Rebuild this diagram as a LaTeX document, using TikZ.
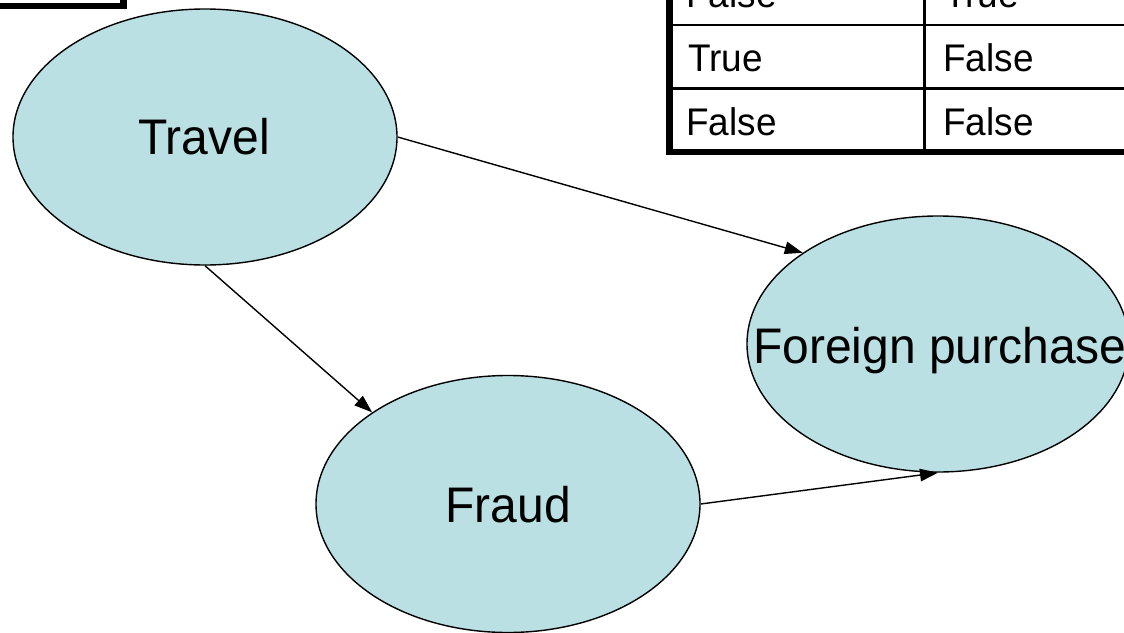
\documentclass[tikz,border=0pt]{standalone}
\usepackage{fontspec}
\setmainfont{Liberation Sans}[FakeStretch=0.96]
\usetikzlibrary{shapes.geometric,arrows.meta}
\definecolor{nodefill}{RGB}{186,224,227}
\begin{document}
\begin{tikzpicture}[x=1pt,y=-1pt,
  var/.style={ellipse, draw=black, line width=1.4pt, fill=nodefill, inner sep=0pt},
  varname/.style={font=\fontsize{50}{60}\selectfont, anchor=base, inner sep=0pt},
  cell/.style={font=\fontsize{38.5}{46}\selectfont, anchor=base west, inner sep=0pt},
  link/.style={-{Triangle[length=18pt,width=12.5pt]}, line width=1.4pt},
  rule/.style={line width=2.6pt},
  frame/.style={line width=6.5pt}]
\useasboundingbox (0,0) rectangle (1124,632);

% box in the upper left corner
\draw[frame] (-10,6) -- (123.5,6) -- (123.5,-10);

% probability table in the upper right corner
\draw[rule] (669,25) -- (1140,25);
\draw[rule] (669,88.5) -- (1140,88.5);
\draw[rule] (924.5,-10) -- (924.5,152);
\draw[frame] (669.5,-10) -- (669.5,152) -- (1140,152);

\node[cell] (c11) at (686,7)   {False};
\node[cell] (c12) at (944,7)   {True};
\node[cell] (c21) at (688,71)  {True};
\node[cell] (c22) at (943,71)  {False};
\node[cell] (c31) at (686,135) {False};
\node[cell] (c32) at (943,135) {False};

% network variables
\node[var, minimum width=384pt, minimum height=256pt] (travel)  at (205,137) {};
\node[var, minimum width=384pt, minimum height=257pt] (fraud)   at (508,504) {};
\node[var, minimum width=382pt, minimum height=256pt] (foreign) at (938,344) {};

\node[varname] (travel-name)  at (204,154.8) {Travel};
\node[varname] (fraud-name)   at (508,522.5) {Fraud};
\node[varname] (foreign-name) at (940,363)   {Foreign purchase};

% dependencies
\draw[link] (travel.east)  -- (foreign.146);
\draw[link] (travel.south) -- (fraud.146);
\draw[link] (fraud.east)   -- (foreign.south);
\end{tikzpicture}
\end{document}
